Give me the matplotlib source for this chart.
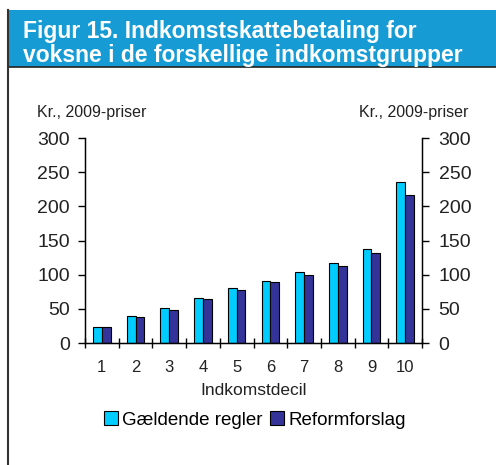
import matplotlib
matplotlib.use("Agg")
import matplotlib.pyplot as plt
from matplotlib.patches import Rectangle
from matplotlib.lines import Line2D
import numpy as np

plt.rcParams['font.family'] = ['Liberation Sans', 'DejaVu Sans']

deciles = ['1', '2', '3', '4', '5', '6', '7', '8', '9', '10']
gaeldende = [24, 40, 51, 66, 80, 91, 104, 117, 138, 235]
reform = [24, 38, 49, 64, 78, 89, 100, 113, 131, 216]
series_names = ['Gældende regler', 'Reformforslag']
yticks = [0, 50, 100, 150, 200, 250, 300]

c_light = '#00CCFF'
c_dark = '#333399'
header_blue = '#169BD5'
txt = '#222222'

fig = plt.figure(figsize=(4.96, 4.65), dpi=100)
W, H = 496, 465

# Header band
fig.patches.append(Rectangle((8 / W, 1 - 67 / H), 1 - 8 / W, 57 / H,
                             transform=fig.transFigure, facecolor=header_blue,
                             edgecolor='none', zorder=0))
fig.lines.append(Line2D([8 / W, 1], [1 - 67 / H, 1 - 67 / H], transform=fig.transFigure,
                        color='#222222', lw=1.2))
fig.lines.append(Line2D([8 / W, 8 / W], [0, 1 - 10 / H], transform=fig.transFigure,
                        color='#333333', lw=1.5))
fig.text(23 / W, 1 - 38 / H, 'Figur 15. Indkomstskattebetaling for', color='white',
         fontsize=16.5, fontweight='bold', va='baseline', ha='left')
fig.text(23 / W, 1 - 61.5 / H, 'voksne i de forskellige indkomstgrupper', color='white',
         fontsize=16.5, fontweight='bold', va='baseline', ha='left')

ax = fig.add_axes([85 / W, 1 - 343 / H, (422 - 85) / W, (343 - 138) / H])
x = np.arange(1, len(deciles) + 1)
bw = 0.26
ax.bar(x - bw / 2, gaeldende, width=bw, color=c_light, edgecolor='black', linewidth=0.8,
       label=series_names[0])
ax.bar(x + bw / 2, reform, width=bw, color=c_dark, edgecolor='black', linewidth=0.8,
       label=series_names[1])

ax.set_xlim(0.5, len(deciles) + 0.5)
ax.set_ylim(0, 300)
ax.set_yticks(yticks)
ax.set_yticklabels([str(t) for t in yticks], fontsize=14, color=txt)
ax.tick_params(axis='y', direction='out', length=5, width=1, left=True, right=False, pad=6)

ax.set_xticks(x)
ax.set_xticklabels(deciles, fontsize=12, color=txt)
ax.tick_params(axis='x', which='major', length=0, pad=12)
ax.set_xticks(np.arange(0.5, len(deciles) + 1, 1), minor=True)
ax.tick_params(axis='x', which='minor', direction='inout', length=7, width=1)
ax.spines['top'].set_visible(False)
for s in ['left', 'right', 'bottom']:
    ax.spines[s].set_linewidth(1.0)

ax2 = ax.twinx()
ax2.set_ylim(0, 300)
ax2.set_yticks(yticks)
ax2.set_yticklabels([str(t) for t in yticks], fontsize=14, color=txt)
ax2.tick_params(axis='y', direction='out', length=5, width=1, pad=7)
ax2.spines['top'].set_visible(False)

ax.set_xlabel('Indkomstdecil', fontsize=12.5, color=txt, labelpad=6)

fig.text(37 / W, 1 - 113 / H, 'Kr., 2009-priser', fontsize=11.5, color=txt,
         ha='left', va='center')
fig.text(468 / W, 1 - 113 / H, 'Kr., 2009-priser', fontsize=11.5, color=txt,
         ha='right', va='center')

handles, labels = ax.get_legend_handles_labels()
fig.legend(handles, labels, loc='center', bbox_to_anchor=(255 / W, 1 - 420 / H), ncol=2,
           frameon=False, fontsize=13.5, handlelength=0.75, handleheight=0.75,
           handletextpad=0.25, columnspacing=0.4)

fig.savefig('out.png', dpi=100)
